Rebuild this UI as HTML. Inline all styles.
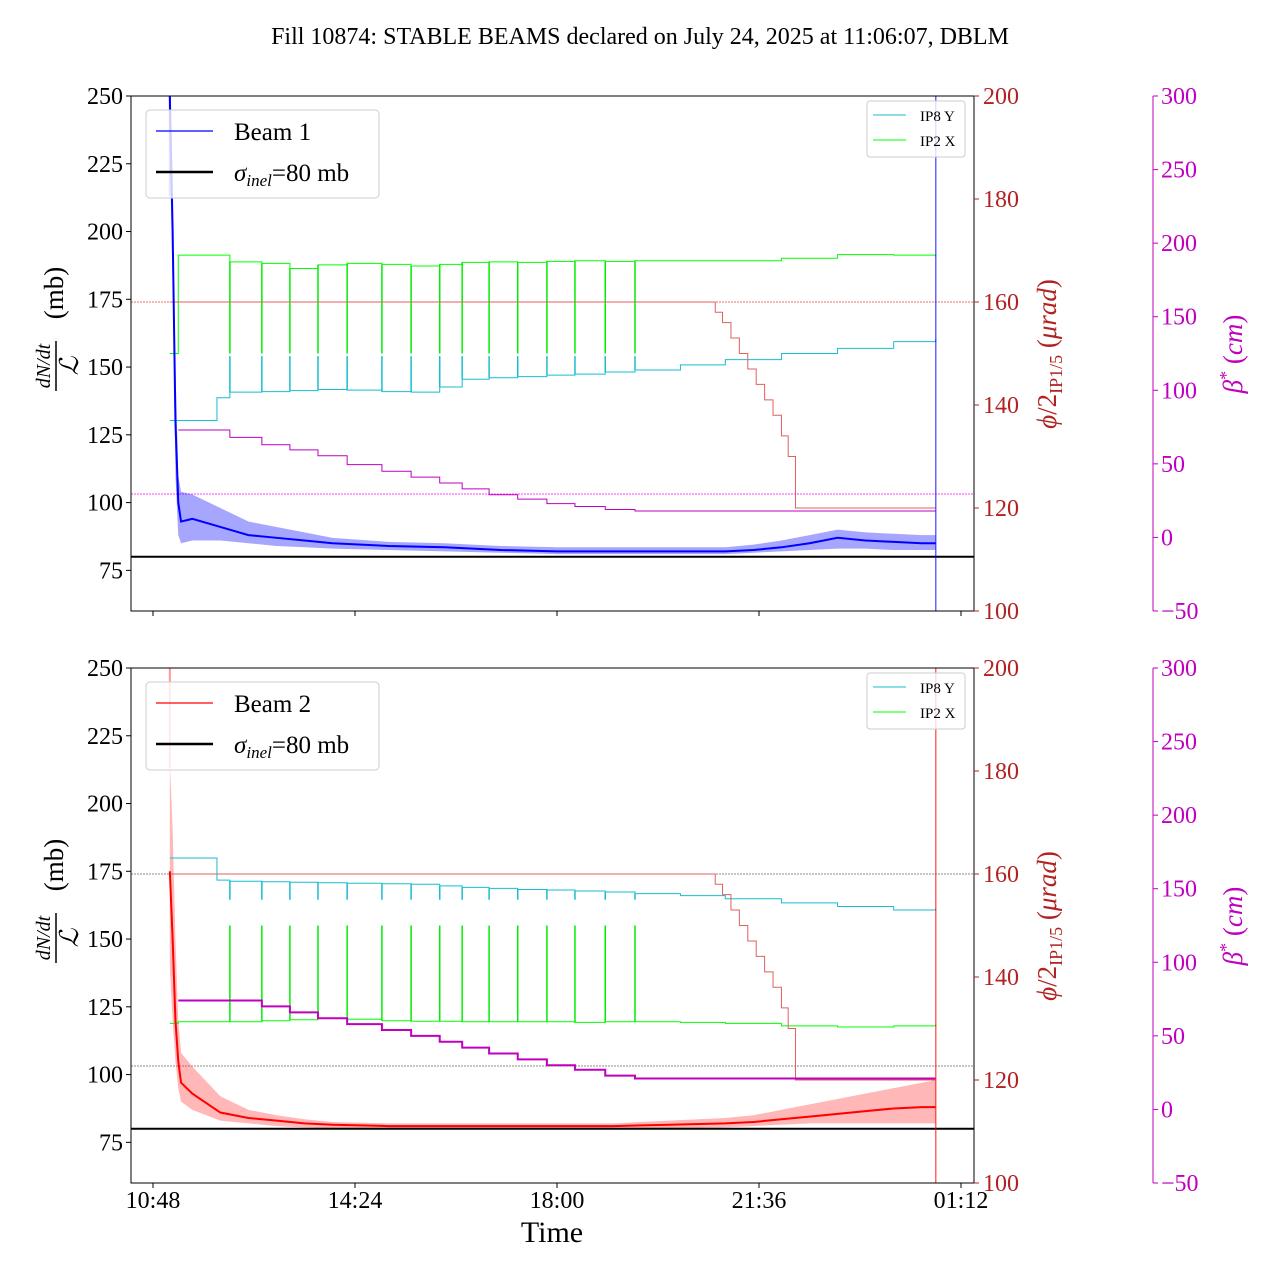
<!DOCTYPE html>
<html><head><meta charset="utf-8"><style>
body{margin:0;background:#fff}
svg{font-family:"Liberation Serif",serif}
</style></head><body>
<svg id="s" width="1280" height="1280" xmlns="http://www.w3.org/2000/svg">
<rect width="1280" height="1280" fill="#fff"/>
<text x="640" y="44" font-size="24" text-anchor="middle">Fill 10874: STABLE BEAMS declared on July 24, 2025 at 11:06:07, DBLM</text>
</svg>
<script>
// ---- data (time in decimal hours, >24 = next day) ----
const xTickLabels=["10:48","14:24","18:00","21:36","01:12"];
const xTickHours=[10.8,14.4,18.0,21.6,25.2];
const yLeftTicks=[75,100,125,150,175,200,225,250];
const phiTicks=[100,120,140,160,180,200];
const betaTicks=[-50,0,50,100,150,200,250,300];
const beamTimes=[11.1,11.15,11.2,11.25,11.3,11.5,12,12.5,13,13.5,14,15,16,17,18,19,20,21,21.5,22,22.5,23,23.5,24,24.5,24.75];
const beam1=[250,200,130,100,93,94,91,88,87,86,85,84,83.5,82.5,82,82,82,82,82.5,83.5,85,87,86,85.5,85,85];
const beam1Hi=[250,210,150,110,104,103,98,93,91,89,87,85.5,85,84,83.5,83.5,83.5,83.5,84.5,86,88,90,89,88.5,88,88];
const beam1Lo=[230,180,110,88,85,86,86,85,84,83.5,83,82.5,82,81.5,81,81,81,81,81.5,82,82.5,83,83,82.5,82.5,82.5];
const beam2=[175,150,120,105,97,93,86,84,83,82,81.5,81,81,81,81,81,81.5,82,82.5,83.5,84.5,85.5,86.5,87.5,88,88];
const beam2Hi=[215,190,150,120,108,103,92,87,85,83.5,82.5,82,82,82,82,82,83,84,85,87,89,91,93,95,97,98];
const beam2Lo=[140,120,105,95,90,87,83,82,81,80.5,80,80,80,80,80,80,80,80.5,81,81.5,82,82,82,82,82,82];
const stepTimes=[11.1,11.25,11.94,12.17,12.74,13.24,13.74,14.26,14.88,15.4,15.91,16.31,16.79,17.3,17.82,18.32,18.86,19.39,20.2,21.0,22.0,23.0,24.0,24.75];
const ip8Top=[137,137,141.4,142.5,142.6,142.8,143,142.9,142.6,142.5,143.5,145,145.3,145.5,145.8,146,146.4,146.8,147.8,148.8,150,151,152.3,152.8];
const ip2Top=[150,169.1,169.1,167.8,167.5,166.5,167.2,167.5,167.3,167,167.3,167.7,167.8,167.7,167.9,168,167.9,168,168,168,168.5,169.2,169.1,168.8];
const ip8Bot=[163.1,163.1,158.8,158.6,158.5,158.4,158.3,158.2,158.1,158,157.7,157.4,157.2,157,156.9,156.7,156.5,156.2,155.8,155.2,154.4,153.7,153,153.3];
const ip2Bot=[131,131.3,131.3,131.3,131.5,131.7,132,131.8,131.5,131.4,131.4,131.3,131.3,131.3,131.3,131.2,131.3,131.3,131.2,131,130.5,130.3,130.5,130.8];
const spikeTimes=[12.17,12.74,13.24,13.74,14.26,14.88,15.4,15.91,16.31,16.79,17.3,17.82,18.32,18.86,19.39];
const ip2TopSpike=150, ip8TopSpike=149.5, ip2BotSpike=150, ip8BotSpike=155;
const phiTimes=[11.1,20.82,20.95,21.1,21.25,21.4,21.55,21.7,21.85,22.0,22.12,22.25,24.75];
const phiVals=[160,158,156,153,150,147,144,141,138,134,130,120,120];
const betaTimes=[11.25,12.17,12.74,13.24,13.74,14.26,14.88,15.4,15.91,16.31,16.79,17.3,17.82,18.32,18.86,19.39,24.75];
const betaTop=[73,68,63,59.5,55.5,49.5,45,41,37,33,29,26,23,21,19,18,18];
const betaBot=[74,74,70,66,62,58,54,50,46,42,38,34,30,27,23,21,21];

const NS="http://www.w3.org/2000/svg",svg=document.getElementById('s');
const X0=131,X1=974;
const xs=h=>153+(h-10.8)*(202/3.6);
function el(t,a,p){const e=document.createElementNS(NS,t);for(const k in a)e.setAttribute(k,a[k]);(p||svg).appendChild(e);return e;}
function stepPath(ts,vs,f){let d='';for(let i=0;i<ts.length;i++){const x=xs(ts[i]),y=f(vs[i]);if(i==0)d+=`M${x},${y}`;else d+=`H${x}V${y}`;}return d;}

function panel(top,beam,hi,lo,col,fillCol,label,ip8,ip2,s8,s2,beta,betaW,refCol,refPhi,refBeta){
  const bot=top+515;
  const yl=v=>top+(250-v)/190*515;
  const yp=v=>top+(200-v)/100*515;
  const yb=v=>top+(300-v)/350*515;
  const g=el('g',{});
  let e=el('line',{x1:X0,x2:X1,y1:yp(160),y2:yp(160),stroke:refCol,'stroke-width':0.8,'stroke-dasharray':'2,1'},g);
  
  e=el('line',{x1:X0,x2:X1,y1:yb(refBeta),y2:yb(refBeta),stroke:refPhi,'stroke-width':0.8,'stroke-dasharray':'2,1'},g);
  
  let d='M'+beamTimes.map((t,i)=>xs(t)+','+yl(hi[i])).join('L')+'L'+beamTimes.map((t,i)=>xs(t)+','+yl(lo[i])).reverse().join('L')+'Z';
  e=el('path',{d:d,fill:fillCol,'fill-opacity':0.35,stroke:'none'},g);
  
  e=el('path',{d:stepPath(stepTimes,ip2,yp),fill:'none',stroke:'#00ff00','stroke-width':1},g);
  
  e=el('path',{d:stepPath(stepTimes,ip8,yp),fill:'none',stroke:'#17becf','stroke-width':1},g);
  
  spikeTimes.forEach(t=>{
    const i=stepTimes.findIndex(v=>Math.abs(v-t)<0.01);
    let s=el('line',{x1:xs(t),x2:xs(t),y1:yp(ip2[i]),y2:yp(s2),stroke:'#00ee00','stroke-width':1.5},g);
    
    s=el('line',{x1:xs(t),x2:xs(t),y1:yp(ip8[i]),y2:yp(s8),stroke:'#17becf','stroke-width':1.5},g);
    
  });
  e=el('path',{d:stepPath(phiTimes,phiVals,yp),fill:'none',stroke:'#e06060','stroke-width':1},g);
  
  e=el('path',{d:stepPath(betaTimes,beta,yb),fill:'none',stroke:'#bf00bf','stroke-width':betaW},g);
  
  e=el('polyline',{points:beamTimes.map((t,i)=>xs(t)+','+yl(beam[i])).join(' '),fill:'none',stroke:col,'stroke-width':2},g);
  
  e=el('line',{x1:X0,x2:X1,y1:yl(80),y2:yl(80),stroke:'#000','stroke-width':2},g);
  
  e=el('line',{x1:xs(11.1),x2:xs(11.1),y1:top,y2:top+100,stroke:fillCol,'stroke-opacity':0.5,'stroke-width':2},g);
  
  e=el('line',{x1:xs(24.75),x2:xs(24.75),y1:top,y2:bot,stroke:col,'stroke-opacity':0.6,'stroke-width':1.5},g);
  
  e=el('rect',{x:X0,y:top,width:X1-X0,height:515,fill:'none',stroke:'#000','stroke-width':1},g);
  
  yLeftTicks.forEach(v=>{el('line',{x1:X0-5,x2:X0,y1:yl(v),y2:yl(v),stroke:'#000'},g);
    const t=el('text',{x:X0-8,y:yl(v)+8,'font-size':24,'text-anchor':'end'},g);t.textContent=v;
    });
  phiTicks.forEach(v=>{el('line',{x1:X1,x2:X1+5,y1:yp(v),y2:yp(v),stroke:'#b22222'},g);
    const t=el('text',{x:X1+9,y:yp(v)+8,'font-size':24,fill:'#b22222'},g);t.textContent=v;
    });
  el('line',{x1:1153,x2:1153,y1:top,y2:bot,stroke:'#bf00bf'},g);
  betaTicks.forEach(v=>{el('line',{x1:1153,x2:1158,y1:yb(v),y2:yb(v),stroke:'#bf00bf'},g);
    const t=el('text',{x:1161,y:yb(v)+8,'font-size':24,fill:'#bf00bf'},g);t.textContent=(v<0?'\u2212'+(-v):v);
    });
  xTickHours.forEach(h=>el('line',{x1:xs(h),x2:xs(h),y1:bot,y2:bot+5,stroke:'#000'},g));
  const cy=top+270;
  const tr=`translate(56,${cy}) rotate(-90)`;
  let t=el('text',{x:0,y:-6,'font-size':20,'font-style':'italic','text-anchor':'middle',transform:tr},g);
  t.textContent='dN/dt';
  
  let t2=el('text',{x:0,y:22,'font-size':26,'font-style':'italic','text-anchor':'middle',transform:tr},g);
  t2.textContent='ℒ';
  
  el('line',{x1:-25,x2:25,y1:0,y2:0,stroke:'#000','stroke-width':1.5,transform:tr},g);
  let t3=el('text',{x:0,y:0,'font-size':27,'text-anchor':'middle',transform:`translate(63,${cy-73}) rotate(-90)`},g);
  t3.textContent='(mb)';
  let t4=el('text',{x:0,y:0,'font-size':27,'text-anchor':'middle',fill:'#b22222',transform:`translate(1056,${top+258}) rotate(-90)`},g);
  t4.innerHTML='<tspan font-style="italic">ϕ</tspan>/2<tspan font-size="18" dy="6">IP1/5</tspan><tspan dy="-6"> (</tspan><tspan font-style="italic">μrad</tspan>)';
  
  let t5=el('text',{x:0,y:0,'font-size':27,'text-anchor':'middle',fill:'#bf00bf',transform:`translate(1242,${top+258}) rotate(-90)`},g);
  t5.innerHTML='<tspan font-style="italic">β</tspan><tspan font-size="18" dy="-10">*</tspan><tspan dy="10"> (</tspan><tspan font-style="italic">cm</tspan>)';
  
  const lg=el('g',{},g);
  el('rect',{x:146,y:top+14,width:233,height:88,rx:4,fill:'#fff','fill-opacity':0.8,stroke:'#ccc'},lg);
  el('line',{x1:156,x2:213,y1:top+35,y2:top+35,stroke:col,'stroke-width':1.2},lg);
  let lt=el('text',{x:234,y:top+44,'font-size':25},lg);lt.textContent=label==='beam-1'?'Beam 1':'Beam 2';
  el('line',{x1:156,x2:213,y1:top+76,y2:top+76,stroke:'#000','stroke-width':2.5},lg);
  lt=el('text',{x:234,y:top+85,'font-size':25},lg);lt.innerHTML='<tspan font-style="italic">σ</tspan><tspan font-style="italic" font-size="17" dy="5">inel</tspan><tspan dy="-5">=80 mb</tspan>';
  const l2=el('g',{},g);
  el('rect',{x:867,y:top+5,width:98,height:56,rx:3,fill:'#fff','fill-opacity':0.8,stroke:'#ccc'},l2);
  el('line',{x1:873,x2:906,y1:top+19,y2:top+19,stroke:'#17becf'},l2);
  lt=el('text',{x:920,y:top+25,'font-size':15},l2);lt.textContent='IP8 Y';
  el('line',{x1:873,x2:906,y1:top+44,y2:top+44,stroke:'#00ff00'},l2);
  lt=el('text',{x:920,y:top+50,'font-size':15},l2);lt.textContent='IP2 X';
}
panel(96,beam1,beam1Hi,beam1Lo,'#0000ff','#0000ff','beam-1',ip8Top,ip2Top,ip8TopSpike,ip2TopSpike,betaTop,1,'#e04040','#ff00ff',29.5);
panel(668,beam2,beam2Hi,beam2Lo,'#ff0000','#ff3030','beam-2',ip8Bot,ip2Bot,ip8BotSpike,ip2BotSpike,betaBot,2,'#666','#666',29.5);
xTickHours.forEach((h,i)=>{const t=el('text',{x:xs(h),y:1208,'font-size':24,'text-anchor':'middle'});t.textContent=xTickLabels[i];
  });
const xt=el('text',{x:552,y:1242,'font-size':30,'text-anchor':'middle'});xt.textContent='Time';

</script>
</body></html>
